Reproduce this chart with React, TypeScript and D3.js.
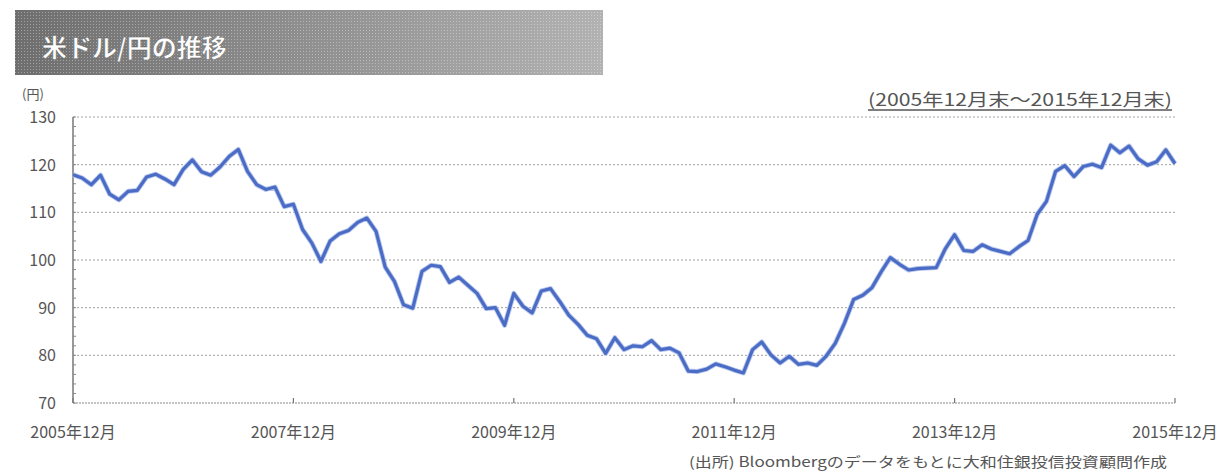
import React from "react";
import * as d3 from "d3";

const title = "米ドル/円の推移";
const unitLabel = "(円)";
const periodNote = "(2005年12月末～2015年12月末)";
const sourceNote = "(出所) Bloombergのデータをもとに大和住銀投信投資顧問作成";
const yTicks = [70, 80, 90, 100, 110, 120, 130];
const xTickLabels = ["2005年12月", "2007年12月", "2009年12月", "2011年12月", "2013年12月", "2015年12月"];
const xTickMonths = [0, 24, 48, 72, 96, 120];

// month-end USD/JPY, 2005/12 .. 2015/12
const rates2006 = [117.9, 117.2, 115.8, 117.8, 113.8, 112.6, 114.4, 114.6, 117.4, 118.0, 117.0, 115.8, 119.0];
const rates2007 = [121.0, 118.5, 117.8, 119.5, 121.7, 123.2, 118.6, 115.8, 114.8, 115.3, 111.2, 111.7];
const rates2008 = [106.4, 103.6, 99.7, 104.0, 105.5, 106.2, 107.9, 108.8, 106.0, 98.5, 95.5, 90.6];
const rates2009 = [89.9, 97.6, 98.9, 98.6, 95.3, 96.4, 94.7, 93.0, 89.8, 90.0, 86.3, 93.0];
const rates2010 = [90.3, 88.9, 93.5, 94.0, 91.3, 88.4, 86.5, 84.2, 83.5, 80.4, 83.7, 81.2];
const rates2011 = [82.0, 81.8, 83.1, 81.2, 81.5, 80.5, 76.7, 76.6, 77.1, 78.2, 77.6, 76.9];
const rates2012 = [76.3, 81.2, 82.8, 80.1, 78.4, 79.8, 78.1, 78.4, 77.9, 79.8, 82.5, 86.7];
const rates2013 = [91.7, 92.6, 94.2, 97.5, 100.5, 99.1, 97.9, 98.2, 98.3, 98.4, 102.4, 105.3];
const rates2014 = [102.0, 101.8, 103.2, 102.3, 101.8, 101.3, 102.8, 104.1, 109.6, 112.3, 118.6, 119.8];
const rates2015 = [117.5, 119.6, 120.1, 119.4, 124.1, 122.5, 123.9, 121.2, 119.9, 120.6, 123.1, 120.2];

const rates = [
  ...rates2006, ...rates2007, ...rates2008, ...rates2009, ...rates2010,
  ...rates2011, ...rates2012, ...rates2013, ...rates2014, ...rates2015,
];

const W = 1230;
const H = 471;
const left = 73;
const right = 1175;
const top = 117;
const bottom = 403;

export default function App() {
  const x = d3.scaleLinear().domain([0, 120]).range([left, right]);
  const y = d3.scaleLinear().domain([70, 130]).range([bottom, top]);
  const line = d3
    .line<number>()
    .x((_, i) => x(i))
    .y((d) => y(d))
    .curve(d3.curveLinear);
  const font = "'Noto Sans CJK JP', 'Noto Sans', sans-serif";
  const minorTicks = d3.range(70, 131, 2);

  return (
    <div style={{ position: "fixed", left: 0, top: 0 }}>
      <svg width={W} height={H} style={{ display: "block", background: "#fff" }} fontFamily={font}>
        <defs>
          <linearGradient id="band" x1="0" x2="1" y1="0" y2="0">
            <stop offset="0" stopColor="#6e6e6e" />
            <stop offset="0.45" stopColor="#8c8c8c" />
            <stop offset="1" stopColor="#b2b2b2" />
          </linearGradient>
          <pattern id="dots" width="3" height="3" patternUnits="userSpaceOnUse">
            <rect width="3" height="3" fill="none" />
            <rect x="0" y="0" width="1" height="1" fill="#ffffff" opacity="0.35" />
          </pattern>
        </defs>
        <rect x={15} y={10} width={588} height={65} fill="url(#band)" />
        <rect x={15} y={10} width={588} height={65} fill="url(#dots)" />
        <text x={42} y={57} fontSize={25} fontWeight="bold" fill="#ffffff" stroke="#555" strokeWidth={0.4}>
          {title}
        </text>

        {/* gridlines */}
        {yTicks.slice(1).map((t) => (
          <line key={t} x1={left} x2={right} y1={y(t)} y2={y(t)} stroke="#a0a0a0" strokeWidth={1} strokeDasharray="2,2" />
        ))}
        <line x1={left} x2={right} y1={bottom} y2={bottom} stroke="#8a8a8a" strokeWidth={1.2} strokeDasharray="2,1" />
        <line x1={left} x2={left} y1={top} y2={bottom} stroke="#777" strokeWidth={1.5} />
        {minorTicks.map((t) => (
          <line key={"m" + t} x1={left} x2={left + 3} y1={y(t)} y2={y(t)} stroke="#888" strokeWidth={1} />
        ))}
        {xTickMonths.map((m) => (
          <line key={"xt" + m} x1={x(m)} x2={x(m)} y1={bottom} y2={bottom - 5} stroke="#777" strokeWidth={1.2} />
        ))}

        {/* y labels */}
        {yTicks.map((t) => (
          <text key={"yl" + t} x={56} y={y(t) + 6} fontSize={16} fill="#555" textAnchor="end">
            {t}
          </text>
        ))}
        <text x={22} y={99} fontSize={13} fill="#555">{unitLabel}</text>

        {/* x labels */}
        {xTickMonths.map((m, i) => (
          <text key={"xl" + m} x={x(m)} y={438} fontSize={16} fill="#555" textAnchor="middle">
            {xTickLabels[i]}
          </text>
        ))}

        {/* period note */}
        <text x={868} y={106} fontSize={17} fill="#555" textLength={304} lengthAdjust="spacingAndGlyphs">
          {periodNote}
        </text>
        <line x1={868} x2={1172} y1={110} y2={110} stroke="#555" strokeWidth={1.5} />

        {/* series */}
        <path d={line(rates) || ""} fill="none" stroke="#b8c6ee" strokeWidth={5} strokeLinejoin="round" />
        <path d={line(rates) || ""} fill="none" stroke="#4a6cc4" strokeWidth={3.2} strokeLinejoin="round" />

        {/* source */}
        <text x={689} y={467} fontSize={14} fill="#555" textLength={478} lengthAdjust="spacingAndGlyphs">
          {sourceNote}
        </text>
      </svg>
    </div>
  );
}
